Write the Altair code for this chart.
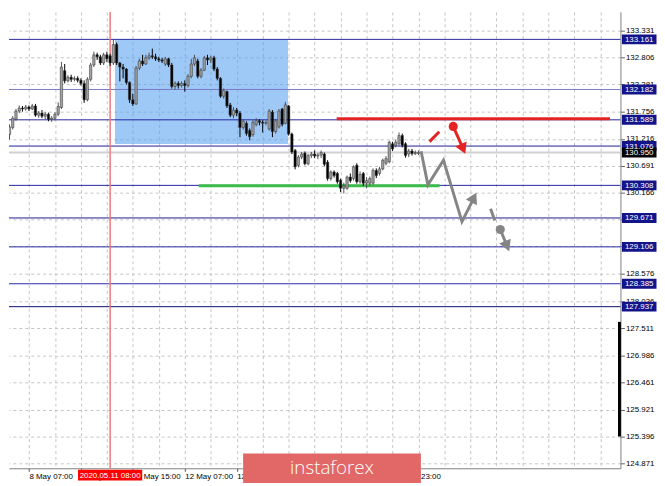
import altair as alt
import pandas as pd

# ---------------- data ----------------
# hourly candles, bar index 0..126
opens = [131.30,131.44,131.60,131.76,131.82,131.80,131.84,131.80,131.86,131.68,
         131.72,131.66,131.70,131.60,131.62,131.70,131.83,132.55,132.35,132.42,
         132.38,132.40,132.36,132.30,131.98,132.38,132.66,132.86,132.82,132.70,
         132.86,132.84,132.70,133.06,132.70,132.62,132.58,132.32,131.98,131.90,
         132.60,132.74,132.68,132.80,132.84,132.82,132.78,132.76,132.68,132.78,
         132.66,132.24,132.30,132.26,132.30,132.26,132.44,132.68,132.74,132.44,
         132.56,132.80,132.76,132.80,132.58,132.40,132.05,132.14,131.88,131.68,
         131.78,131.72,131.44,131.52,131.38,131.30,131.50,131.57,131.54,131.52,
         131.41,131.74,131.36,131.45,131.80,131.52,131.86,131.31,130.99,130.70,
         130.86,130.94,130.73,130.89,130.92,130.88,130.90,130.92,130.76,130.44,
         130.57,130.54,130.41,130.25,130.25,130.47,130.44,130.70,130.38,130.54,
         130.35,130.35,130.35,130.60,130.54,130.63,130.74,130.77,131.12,131.09,
         131.12,131.28,131.12,130.92,130.98,130.93,130.93]
highs = [131.50,131.66,131.80,131.87,131.86,131.88,131.87,131.90,131.90,131.76,
         131.78,131.74,131.73,131.66,131.74,131.93,132.72,132.68,132.46,132.47,
         132.44,132.44,132.40,132.36,132.42,132.70,132.92,132.90,132.86,132.90,
         132.92,132.88,133.16,133.10,132.72,132.68,132.60,132.34,132.10,132.64,
         132.78,132.86,132.86,132.90,132.98,132.88,132.82,132.80,132.82,132.80,
         132.70,132.34,132.34,132.34,132.36,132.48,132.78,132.86,132.78,132.60,
         132.84,132.86,132.84,132.84,132.62,132.42,132.20,132.16,131.92,131.84,
         131.82,131.76,131.60,131.56,131.42,131.58,131.62,131.60,131.58,131.58,
         131.80,131.78,131.60,131.80,131.82,131.94,131.88,131.34,131.02,130.90,
         130.96,130.97,130.92,130.96,130.99,130.94,130.99,130.95,130.80,130.60,
         130.60,130.57,130.44,130.36,130.50,130.54,130.70,130.74,130.58,130.57,
         130.47,130.48,130.64,130.64,130.67,130.83,130.88,131.18,131.16,131.20,
         131.34,131.32,131.15,131.02,131.02,130.99,130.99]
lows = [131.20,131.40,131.57,131.72,131.75,131.77,131.76,131.78,131.65,131.63,
        131.62,131.60,131.56,131.55,131.58,131.66,131.80,132.30,132.32,132.33,
        132.34,132.32,132.26,131.92,131.95,132.34,132.62,132.76,132.66,132.66,
        132.72,132.64,132.66,132.66,132.34,132.40,132.28,131.92,131.86,131.88,
        132.56,132.64,132.66,132.76,132.78,132.74,132.72,132.70,132.64,132.62,
        132.20,132.18,132.20,132.22,132.14,132.22,132.40,132.64,132.40,132.40,
        132.54,132.66,132.70,132.54,132.36,132.02,132.00,131.82,131.64,131.62,
        131.66,131.25,131.40,131.28,131.19,131.26,131.46,131.48,131.34,131.48,
        131.38,131.25,131.32,131.42,131.46,131.50,131.28,130.92,130.62,130.66,
        130.82,130.70,130.70,130.84,130.84,130.82,130.84,130.68,130.40,130.40,
        130.46,130.34,130.18,130.15,130.22,130.36,130.40,130.34,130.34,130.30,
        130.25,130.30,130.32,130.45,130.50,130.60,130.70,130.74,130.98,131.05,
        131.08,131.05,130.85,130.86,130.89,130.90,130.90]
closes = [131.45,131.62,131.76,131.82,131.80,131.84,131.80,131.86,131.68,131.72,
          131.66,131.70,131.60,131.62,131.70,131.85,132.62,132.35,132.42,132.38,
          132.40,132.36,132.30,131.98,132.38,132.66,132.86,132.82,132.70,132.86,
          132.78,132.70,133.06,132.70,132.62,132.58,132.32,131.98,131.90,132.60,
          132.74,132.68,132.80,132.84,132.82,132.78,132.76,132.74,132.78,132.66,
          132.24,132.30,132.26,132.30,132.26,132.44,132.68,132.80,132.44,132.56,
          132.80,132.76,132.80,132.58,132.40,132.05,132.16,131.86,131.68,131.78,
          131.72,131.44,131.56,131.32,131.26,131.54,131.57,131.54,131.52,131.54,
          131.76,131.36,131.57,131.76,131.50,131.88,131.31,130.96,130.67,130.86,
          130.92,130.73,130.89,130.92,130.88,130.90,130.95,130.72,130.44,130.57,
          130.50,130.38,130.25,130.30,130.47,130.40,130.67,130.38,130.52,130.35,
          130.40,130.44,130.60,130.50,130.63,130.80,130.83,131.15,131.02,131.15,
          131.28,131.09,130.89,130.98,130.93,130.95,130.95]

# time axis (bar index -> label)
x_label_pos = [6, 22, 38, 54, 70, 86, 102, 118]
x_label_txt = ["8 May 07:00", "8 May 23:00", "11 May 15:00", "12 May 07:00",
               "12 May 23:00", "13 May 15:00", "14 May 07:00", "14 May 23:00"]
x_grid_pos = list(range(6, 186, 8))
marker_bar = 31
marker_text = "2020.05.11 08:00"

# price axis
y_ticks = [133.331, 132.806, 132.281, 131.756, 131.216, 130.691, 130.166, 129.641,
           129.116, 128.576, 128.036, 127.511, 126.986, 126.461, 125.921, 125.396, 124.871]
levels = [133.161, 132.182, 131.589, 131.076, 130.308, 129.671, 129.106, 128.385, 127.937]
level_colors = ["#2828a0", "#7a7ac6", "#2424a0", "#1c1c98", "#2424a0", "#1a1a90", "#2828a8", "#2828a8", "#0c0c70"]
current_price = 130.950

# drawn objects
box_x = [32.5, 85.8]
box_y = [131.117, 133.161]
resist_x = [100.8, 185.0]
resist_y = 131.61
support_x = [58.3, 132.5]
support_y = 130.30

gray_path_x = [126.8, 128.9, 133.7, 139.4, 142.9]
gray_path_y = [130.976, 130.32, 130.80, 129.60, 130.04]
gray_dash_x = [148.2, 149.5]
gray_dash_y = [129.85, 129.62]
gray_dot = (151.2, 129.445)
gray_head2 = (153.24, 129.13)
red_dash_x = [129.4, 132.4]
red_dash_y = [131.163, 131.356]
red_dot = (136.7, 131.46)
red_head = (139.7, 131.03)
heads = [(143.06, 130.07, 27, "gray"), (153.3, 129.12, 157, "gray"), (139.75, 131.02, 156, "red")]
scroll_y = [127.64, 125.40]

# ---------------- chart ----------------
W, H = 619, 462
XD = [1.365, 186.7]
YD = [124.779, 133.698]
FONT = "Liberation Sans"
NAVY = "#14148a"
RED = "#e42424"
GRAY = "#858585"

xs = alt.Scale(domain=XD, nice=False, zero=False)
ys = alt.Scale(domain=YD, nice=False, zero=False)

label_expr = "".join(f"datum.value == {p} ? '{t}' : " for p, t in zip(x_label_pos, x_label_txt)) + "''"
tick_test = "indexof([" + ",".join(str(p) for p in x_label_pos) + "], datum.value) >= 0"

XAX = alt.Axis(values=x_grid_pos, labelExpr=label_expr, title=None, orient="bottom",
               tickColor={"condition": {"test": tick_test, "value": "#505050"}, "value": "transparent"})
YAX = alt.Axis(values=y_ticks, orient="right", title=None, format=".3f")


def X(field):
    return alt.X(field, scale=xs, axis=XAX)


def Y(field):
    return alt.Y(field, scale=ys, axis=YAX)


candles = pd.DataFrame({"i": list(range(len(opens))), "o": opens, "h": highs, "l": lows, "c": closes})
up = candles["c"] >= candles["o"]
candles["wc"] = ["#505050" if u else "#000000" for u in up]
candles["bc"] = ["#a0a0a0" if u else "#000000" for u in up]

wicks = alt.Chart(candles).mark_rule(strokeWidth=1, clip=True).encode(
    x=X("i:Q"), y=Y("l:Q"), y2="h:Q", color=alt.Color("wc:N", scale=None))
bodies = alt.Chart(candles).mark_bar(size=2.4, clip=True, stroke="#303030", strokeWidth=0.5).encode(
    x=X("i:Q"), y=Y("o:Q"), y2="c:Q", color=alt.Color("bc:N", scale=None))

rect_df = pd.DataFrame({"x": [box_x[0]], "x2": [box_x[1]], "y": [box_y[0]], "y2": [box_y[1]]})
blue_box = alt.Chart(rect_df).mark_rect(color="#4f9cf0", opacity=0.55).encode(
    x=X("x:Q"), x2="x2:Q", y=Y("y:Q"), y2="y2:Q")

lev_df = pd.DataFrame({"y": levels, "col": level_colors, "t": [f"{v:.3f}" for v in levels]})
level_lines = alt.Chart(lev_df).mark_rule(strokeWidth=1).encode(
    y=Y("y:Q"), x=alt.value(0), x2=alt.value(W), color=alt.Color("col:N", scale=None))

cur_df = pd.DataFrame({"y": [current_price], "t": [f"{current_price:.3f}"]})
cur_line = alt.Chart(cur_df).mark_rule(strokeWidth=2, color="#d0d0d0").encode(
    y=Y("y:Q"), x=alt.value(0), x2=alt.value(W))

vline_df = pd.DataFrame({"x": [marker_bar], "t": [marker_text]})
vline = alt.Chart(vline_df).mark_rule(strokeWidth=1.5, color="#f07878").encode(
    x=X("x:Q"), y=alt.value(0), y2=alt.value(H))

hl_df = pd.DataFrame({"x": [resist_x[0], support_x[0]], "x2": [resist_x[1], support_x[1]],
                      "y": [resist_y, support_y], "col": [RED, "#3cbc48"]})
hlines = alt.Chart(hl_df).mark_rule(strokeWidth=3).encode(
    x=X("x:Q"), x2="x2:Q", y=Y("y:Q"), color=alt.Color("col:N", scale=None))

paths = pd.DataFrame({
    "x": gray_path_x + gray_dash_x + [gray_dot[0], gray_head2[0]] + red_dash_x + [red_dot[0], red_head[0]],
    "y": gray_path_y + gray_dash_y + [gray_dot[1], gray_head2[1]] + red_dash_y + [red_dot[1], red_head[1]],
    "g": ["g1"] * 5 + ["g2"] * 2 + ["g3"] * 2 + ["r1"] * 2 + ["r2"] * 2,
    "ord": list(range(5)) + [0, 1] + [0, 1] + [0, 1] + [0, 1],
})
paths["col"] = [RED if g.startswith("r") else GRAY for g in paths["g"]]
path_lines = alt.Chart(paths).mark_line(strokeWidth=3, strokeCap="butt").encode(
    x=X("x:Q"), y=Y("y:Q"), detail="g:N", order="ord:Q", color=alt.Color("col:N", scale=None))

dots_df = pd.DataFrame({"x": [gray_dot[0], red_dot[0]], "y": [gray_dot[1], red_dot[1]], "col": [GRAY, RED]})
dots = alt.Chart(dots_df).mark_circle(size=85, opacity=1).encode(
    x=X("x:Q"), y=Y("y:Q"), color=alt.Color("col:N", scale=None))

heads_df = pd.DataFrame(heads, columns=["x", "y", "a", "k"])
heads_df["col"] = [RED if k == "red" else GRAY for k in heads_df["k"]]
arrow_heads = alt.Chart(heads_df).mark_point(shape="triangle-up", filled=True, size=160, opacity=1).encode(
    x=X("x:Q"), y=Y("y:Q"), angle=alt.Angle("a:Q", scale=None), color=alt.Color("col:N", scale=None))

scroll_df = pd.DataFrame({"y": [scroll_y[0]], "y2": [scroll_y[1]]})
scroll = alt.Chart(scroll_df).mark_rule(strokeWidth=3, color="#000000").encode(
    x=alt.value(W - 1), y=Y("y:Q"), y2="y2:Q")

# price labels with boxes on the right axis
lab_df = pd.concat([lev_df.assign(bg=NAVY), cur_df.assign(bg="#000000")], ignore_index=True)
lab_boxes = alt.Chart(lab_df).mark_tick(orient="horizontal", size=35, thickness=10, opacity=1).encode(
    x=alt.value(W + 19), y=Y("y:Q"), color=alt.Color("bg:N", scale=None))
lab_text = alt.Chart(lab_df).mark_text(font=FONT, fontSize=8, color="#ffffff", align="center",
                                       baseline="middle", dy=0.5).encode(
    x=alt.value(W + 19), y=Y("y:Q"), text="t:N")

# red time marker label
mk_box = alt.Chart(vline_df).mark_tick(orient="horizontal", size=65, thickness=11, color="#ff0000", opacity=1).encode(
    x=X("x:Q"), y=alt.value(H + 7))
mk_text = alt.Chart(vline_df).mark_text(font=FONT, fontSize=8, color="#ffffff", align="center",
                                        baseline="middle").encode(
    x=X("x:Q"), y=alt.value(H + 7.5), text="t:N")

# watermark
wm_df = pd.DataFrame({"t": ["instaforex"]})
wm_box = alt.Chart(wm_df).mark_rect(color="#e26868").encode(
    x=alt.value(237), x2=alt.value(417), y=alt.value(447), y2=alt.value(477))
wm_text = alt.Chart(wm_df).mark_text(font="Open Sans", fontSize=19, fontWeight=300, color="#ffffff",
                                     align="center", baseline="middle").encode(
    x=alt.value(327), y=alt.value(462), text="t:N")

chart = alt.layer(
    blue_box, cur_line, level_lines, vline, hlines, wicks, bodies,
    path_lines, dots, arrow_heads, scroll, lab_boxes, lab_text, mk_box, mk_text, wm_box, wm_text
).properties(width=W, height=H, padding=0, background="#ffffff").configure_view(
    stroke=None
).configure_axis(
    grid=True, gridColor="#c4c4c4", gridDash=[3, 3], gridWidth=1,
    domainColor="#808080", labelFont=FONT, labelFontSize=8, labelColor="#000000",
    labelOverlap=False, labelFlush=False, labelBound=False
).configure_axisX(
    tickSize=3, labelAlign="left", labelBaseline="top", labelPadding=1
).configure_axisY(
    tickSize=4, tickColor="#606060", labelPadding=1
)

chart.save("out.html", embed_options={"renderer": "svg", "actions": False})
